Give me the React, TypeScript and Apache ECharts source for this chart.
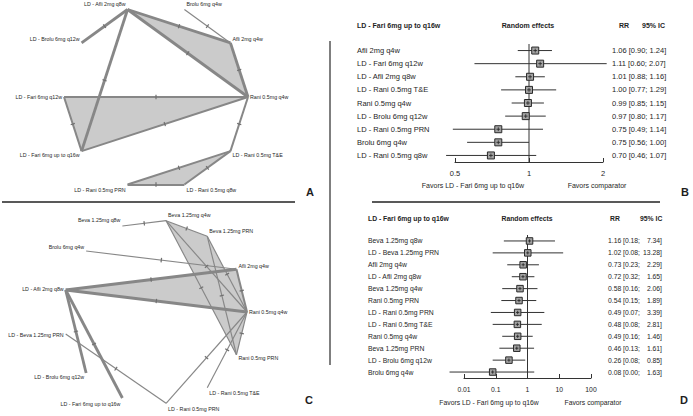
import React, { useEffect, useRef } from "react";
import * as echarts from "echarts";

const FONT = "'Liberation Sans', Arial, Helvetica, sans-serif";
const TXT = "#1e1e1e";
const EDGE = "#878787";
const FILL = "#cbcbcb";

// ---------- Network A (nodes in circular order, starting east, counter-clockwise)
const nodesA = [
  "Rani 0.5mg q4w",
  "Afli 2mg q4w",
  "Brolu 6mg q4w",
  "LD - Afli 2mg q8w",
  "LD - Brolu 6mg q12w",
  "LD - Fari 6mg q12w",
  "LD - Fari 6mg up to q16w",
  "LD - Rani 0.5mg PRN",
  "LD - Rani 0.5mg q8w",
  "LD - Rani 0.5mg T&E",
];
// [source, target, number of studies]
const edgesA: [string, string, number][] = [
  ["LD - Afli 2mg q8w", "LD - Brolu 6mg q12w", 3],
  ["LD - Afli 2mg q8w", "Afli 2mg q4w", 3],
  ["LD - Afli 2mg q8w", "Rani 0.5mg q4w", 3],
  ["LD - Afli 2mg q8w", "LD - Fari 6mg up to q16w", 3],
  ["Brolu 6mg q4w", "Afli 2mg q4w", 1],
  ["Afli 2mg q4w", "Rani 0.5mg q4w", 3],
  ["LD - Fari 6mg q12w", "Rani 0.5mg q4w", 2],
  ["LD - Fari 6mg q12w", "LD - Fari 6mg up to q16w", 2],
  ["LD - Fari 6mg up to q16w", "Rani 0.5mg q4w", 2],
  ["Rani 0.5mg q4w", "LD - Rani 0.5mg T&E", 2],
  ["LD - Rani 0.5mg T&E", "LD - Rani 0.5mg PRN", 2],
  ["LD - Rani 0.5mg T&E", "LD - Rani 0.5mg q8w", 2],
  ["LD - Rani 0.5mg PRN", "LD - Rani 0.5mg q8w", 2],
];
const loopsA: string[][] = [
  ["LD - Afli 2mg q8w", "Afli 2mg q4w", "Rani 0.5mg q4w"],
  ["LD - Fari 6mg q12w", "Rani 0.5mg q4w", "LD - Fari 6mg up to q16w"],
  ["LD - Rani 0.5mg T&E", "LD - Rani 0.5mg q8w", "LD - Rani 0.5mg PRN"],
];

// ---------- Network C
const nodesC = [
  "Rani 0.5mg q4w",
  "Afli 2mg q4w",
  "Beva 1.25mg PRN",
  "Beva 1.25mg q4w",
  "Beva 1.25mg q8w",
  "Brolu 6mg q4w",
  "LD - Afli 2mg q8w",
  "LD - Beva 1.25mg PRN",
  "LD - Brolu 6mg q12w",
  "LD - Fari 6mg up to q16w",
  "LD - Rani 0.5mg PRN",
  "LD - Rani 0.5mg T&E",
  "Rani 0.5mg PRN",
];
const edgesC: [string, string, number][] = [
  ["Beva 1.25mg q8w", "Beva 1.25mg q4w", 1],
  ["Beva 1.25mg q4w", "Beva 1.25mg PRN", 1],
  ["Beva 1.25mg q4w", "Rani 0.5mg q4w", 1],
  ["Beva 1.25mg q4w", "Rani 0.5mg PRN", 1],
  ["Beva 1.25mg PRN", "Rani 0.5mg q4w", 1],
  ["Beva 1.25mg PRN", "Rani 0.5mg PRN", 1],
  ["Brolu 6mg q4w", "Afli 2mg q4w", 1],
  ["LD - Afli 2mg q8w", "Afli 2mg q4w", 3],
  ["LD - Afli 2mg q8w", "Rani 0.5mg q4w", 3],
  ["Afli 2mg q4w", "Rani 0.5mg q4w", 2],
  ["Rani 0.5mg q4w", "Rani 0.5mg PRN", 1],
  ["LD - Afli 2mg q8w", "LD - Brolu 6mg q12w", 3],
  ["LD - Afli 2mg q8w", "LD - Fari 6mg up to q16w", 3],
  ["LD - Beva 1.25mg PRN", "LD - Rani 0.5mg PRN", 1],
  ["LD - Rani 0.5mg PRN", "Rani 0.5mg q4w", 1],
  ["LD - Rani 0.5mg T&E", "Rani 0.5mg q4w", 1],
];
const loopsC: string[][] = [
  ["Beva 1.25mg q4w", "Beva 1.25mg PRN", "Rani 0.5mg q4w", "Rani 0.5mg PRN"],
  ["LD - Afli 2mg q8w", "Afli 2mg q4w", "Rani 0.5mg q4w"],
];

// ---------- Forest B
const labelsB = [
  "Afli 2mg q4w",
  "LD - Fari 6mg q12w",
  "LD - Afli 2mg q8w",
  "LD - Rani 0.5mg T&E",
  "Rani 0.5mg q4w",
  "LD - Brolu 6mg q12w",
  "LD - Rani 0.5mg PRN",
  "Brolu 6mg q4w",
  "LD - Rani 0.5mg q8w",
];
const rrB = [1.06, 1.11, 1.01, 1.0, 0.99, 0.97, 0.75, 0.75, 0.7];
const loB = [0.9, 0.6, 0.88, 0.77, 0.85, 0.8, 0.49, 0.56, 0.46];
const hiB = [1.24, 2.07, 1.16, 1.29, 1.15, 1.17, 1.14, 1.0, 1.07];

// ---------- Forest D
const labelsD = [
  "Beva 1.25mg q8w",
  "LD - Beva 1.25mg PRN",
  "Afli 2mg q4w",
  "LD - Afli 2mg q8w",
  "Beva 1.25mg q4w",
  "Rani 0.5mg PRN",
  "LD - Rani 0.5mg PRN",
  "LD - Rani 0.5mg T&E",
  "Rani 0.5mg q4w",
  "Beva 1.25mg PRN",
  "LD - Brolu 6mg q12w",
  "Brolu 6mg q4w",
];
const rrD = [1.16, 1.02, 0.73, 0.72, 0.58, 0.54, 0.49, 0.48, 0.49, 0.46, 0.26, 0.08];
const loD = [0.18, 0.08, 0.23, 0.32, 0.16, 0.15, 0.07, 0.08, 0.16, 0.13, 0.08, 0.0035];
const hiD = [7.34, 13.28, 2.29, 1.65, 2.06, 1.89, 3.39, 2.81, 1.46, 1.61, 0.85, 1.63];

const refName = "LD - Fari 6mg up to q16w";
const favLeft = "Favors LD - Fari 6mg up to q16w";
const favRight = "Favors comparator";

const f2 = (v: number) => v.toFixed(2);
const widthOf = (k: number) => 0.3 + k * 0.85;

function circlePos(nodes: string[]) {
  const pos: Record<string, [number, number]> = {};
  nodes.forEach((n, i) => {
    const a = (i * 2 * Math.PI) / nodes.length;
    pos[n] = [Math.cos(a), Math.sin(a)];
  });
  return pos;
}

function networkSeries(
  idx: number,
  nodes: string[],
  edges: [string, string, number][],
  loops: string[][]
) {
  const pos = circlePos(nodes);
  const graph = {
    type: "graph",
    coordinateSystem: "cartesian2d",
    xAxisIndex: idx,
    yAxisIndex: idx,
    symbolSize: 0,
    silent: true,
    z: 3,
    emphasis: { disabled: true },
    data: nodes.map((n) => {
      const [c, s] = pos[n];
      return {
        name: n,
        value: pos[n],
        label: {
          show: true,
          position: c >= -0.05 ? "right" : "left",
          offset: [0, -6 * s],
          distance: 2,
          fontSize: 5.3,
          color: TXT,
          fontFamily: FONT,
        },
      };
    }),
    links: edges.map(([s, t, k]) => ({
      source: s,
      target: t,
      lineStyle: { width: widthOf(k) },
    })),
    lineStyle: { color: EDGE, opacity: 1, curveness: 0 },
  };
  const polys = {
    type: "custom",
    xAxisIndex: idx,
    yAxisIndex: idx,
    silent: true,
    z: 1,
    data: loops.map((_, i) => [0, 0, i]),
    encode: { x: 0, y: 1 },
    renderItem: (_p: any, api: any) => {
      const loop = loops[api.value(2) as number];
      return {
        type: "polygon",
        shape: { points: loop.map((n) => api.coord(pos[n])) },
        style: { fill: FILL, stroke: "none" },
      };
    },
  };
  const ticks = {
    type: "custom",
    xAxisIndex: idx,
    yAxisIndex: idx,
    silent: true,
    z: 4,
    data: edges.map((_, i) => [0, 0, i]),
    encode: { x: 0, y: 1 },
    renderItem: (_p: any, api: any) => {
      const [s, t] = edges[api.value(2) as number];
      const p = api.coord(pos[s]);
      const q = api.coord(pos[t]);
      const mx = (p[0] + q[0]) / 2;
      const my = (p[1] + q[1]) / 2;
      const dx = q[0] - p[0];
      const dy = q[1] - p[1];
      const L = Math.hypot(dx, dy) || 1;
      const nx = (-dy / L) * 2.2;
      const ny = (dx / L) * 2.2;
      return {
        type: "line",
        shape: { x1: mx - nx, y1: my - ny, x2: mx + nx, y2: my + ny },
        style: { stroke: "#707070", lineWidth: 1.2 },
      };
    },
  };
  return [polys, graph, ticks];
}

function forestSeries(
  xi: number,
  yi: number,
  rr: number[],
  lo: number[],
  hi: number[],
  sq: number
) {
  const main = {
    type: "custom",
    xAxisIndex: xi,
    yAxisIndex: yi,
    silent: true,
    z: 3,
    data: rr.map((v, i) => [v, i, lo[i], hi[i]]),
    encode: { x: 0, y: 1 },
    renderItem: (_p: any, api: any) => {
      const row = api.value(1);
      const c = api.coord([api.value(0), row]);
      const a = api.coord([api.value(2), row]);
      const b = api.coord([api.value(3), row]);
      const h = sq / 2;
      return {
        type: "group",
        children: [
          {
            type: "line",
            shape: { x1: a[0], y1: a[1], x2: b[0], y2: b[1] },
            style: { stroke: "#333", lineWidth: 1 },
          },
          {
            type: "rect",
            shape: { x: c[0] - h, y: c[1] - h, width: sq, height: sq },
            style: { fill: "#a3a3a3", stroke: "#2a2a2a", lineWidth: 1 },
          },
          {
            type: "line",
            shape: { x1: c[0] - h + 1.6, y1: c[1], x2: c[0] + h - 1.6, y2: c[1] },
            style: { stroke: "#222", lineWidth: 0.8 },
          },
          {
            type: "line",
            shape: { x1: c[0], y1: c[1] - h + 1.6, x2: c[0], y2: c[1] + h - 1.6 },
            style: { stroke: "#222", lineWidth: 0.8 },
          },
        ],
      };
    },
  };
  const ref = {
    type: "custom",
    xAxisIndex: xi,
    yAxisIndex: yi,
    silent: true,
    z: 2,
    data: [[1, 0]],
    encode: { x: 0, y: 1 },
    renderItem: (p: any, api: any) => {
      const x = api.coord([1, 0])[0];
      const cs = p.coordSys;
      return {
        type: "line",
        shape: { x1: x, y1: cs.y, x2: x, y2: cs.y + cs.height },
        style: { stroke: "#333", lineWidth: 1 },
      };
    },
  };
  return [ref, main];
}

const hiddenAxis = (gridIndex: number) => ({
  type: "value",
  gridIndex,
  min: -1,
  max: 1,
  show: false,
});

const logFmt = (v: number) => String(Number(v.toPrecision(4)));

function buildOption() {
  const text = (
    s: string,
    x: number,
    y: number,
    size: number,
    align = "left",
    bold = false
  ) => ({
    type: "text",
    x,
    y,
    silent: true,
    style: {
      text: s,
      fill: TXT,
      font: `${bold ? "bold " : ""}${size}px ${FONT}`,
      textAlign: align,
      textVerticalAlign: "middle",
    },
  });
  const line = (x1: number, y1: number, x2: number, y2: number, c: string, w: number) => ({
    type: "line",
    silent: true,
    shape: { x1, y1, x2, y2 },
    style: { stroke: c, lineWidth: w },
  });

  return {
    animation: false,
    backgroundColor: "#ffffff",
    textStyle: { fontFamily: FONT },
    grid: [
      { left: 64, top: 5, width: 184, height: 184 },
      { left: 63, top: 220, width: 184, height: 184 },
      { left: 455, top: 44, width: 148, height: 118 },
      { left: 464, top: 235, width: 127, height: 143 },
    ],
    xAxis: [
      hiddenAxis(0),
      hiddenAxis(1),
      {
        type: "log",
        logBase: 2,
        gridIndex: 2,
        min: 0.5,
        max: 2,
        axisLine: { show: true, lineStyle: { color: "#333", width: 1 } },
        axisTick: { show: true, inside: true, length: 4, lineStyle: { color: "#333" } },
        axisLabel: { fontSize: 7.5, color: TXT, margin: 7, formatter: logFmt, fontFamily: FONT },
        splitLine: { show: false },
      },
      {
        type: "log",
        logBase: 10,
        gridIndex: 3,
        min: 0.01,
        max: 100,
        axisLine: { show: true, lineStyle: { color: "#333", width: 1 } },
        axisTick: { show: true, inside: true, length: 4, lineStyle: { color: "#333" } },
        axisLabel: { fontSize: 6.8, color: TXT, margin: 8, formatter: logFmt, fontFamily: FONT },
        splitLine: { show: false },
      },
    ],
    yAxis: [
      hiddenAxis(0),
      hiddenAxis(1),
      {
        type: "category",
        gridIndex: 2,
        inverse: true,
        data: labelsB,
        axisLine: { show: false },
        axisTick: { show: false },
        axisLabel: { align: "left", margin: 98, fontSize: 7.5, color: TXT, fontFamily: FONT },
      },
      {
        type: "category",
        gridIndex: 2,
        position: "right",
        inverse: true,
        data: rrB.map((v, i) => `${f2(v)} [${f2(loB[i])}; ${f2(hiB[i])}]`),
        axisLine: { show: false },
        axisTick: { show: false },
        axisLabel: { align: "left", margin: 9, fontSize: 7.5, color: TXT, fontFamily: FONT },
      },
      {
        type: "category",
        gridIndex: 3,
        inverse: true,
        data: labelsD,
        axisLine: { show: false },
        axisTick: { show: false },
        axisLabel: { align: "left", margin: 96, fontSize: 6.8, color: TXT, fontFamily: FONT },
      },
      {
        type: "category",
        gridIndex: 3,
        position: "right",
        inverse: true,
        data: rrD.map((v, i) => `{rr|${f2(v)}}{lo|[${f2(loD[i])};}{hi|${f2(hiD[i])}]}`),
        axisLine: { show: false },
        axisTick: { show: false },
        axisLabel: {
          align: "left",
          margin: 17,
          fontSize: 6.8,
          color: TXT,
          fontFamily: FONT,
          rich: {
            rr: { width: 15, fontSize: 6.8, color: TXT, fontFamily: FONT },
            lo: { width: 20, fontSize: 6.8, color: TXT, fontFamily: FONT },
            hi: { width: 19, align: "right", fontSize: 6.8, color: TXT, fontFamily: FONT },
          },
        },
      },
    ],
    series: [
      ...networkSeries(0, nodesA, edgesA, loopsA),
      ...networkSeries(1, nodesC, edgesC, loopsC),
      ...forestSeries(2, 2, rrB, loB, hiB, 7),
      ...forestSeries(3, 4, rrD, loD, hiD, 6.5),
    ],
    graphic: [
      line(2, 202, 295, 202, "#222", 1.5),
      line(372, 202, 660, 202, "#222", 1.5),
      line(330, 41, 330, 365, "#555", 1.5),
      text("A", 310, 192, 11, "center", true),
      text("B", 685, 192, 11, "center", true),
      text("C", 309, 400, 11, "center", true),
      text("D", 684, 400, 11, "center", true),
      // B header / footer
      text(refName, 357, 25, 7, "left", true),
      text("Random effects", 528, 25, 7, "center", true),
      text("RR", 619, 25, 7, "left", true),
      text("95% IC", 642, 25, 7, "left", true),
      text(favLeft, 473, 185, 7, "center"),
      text(favRight, 597, 185, 7, "center"),
      // D header / footer
      text(refName, 368, 218, 6.8, "left", true),
      text("Random effects", 527, 218, 6.8, "center", true),
      text("RR", 610, 218, 6.8, "left", true),
      text("95% IC", 640, 218, 6.8, "left", true),
      text(favLeft, 489, 402, 6.8, "center"),
      text(favRight, 593, 402, 6.8, "center"),
    ],
  };
}

export default function App() {
  const ref = useRef<HTMLDivElement>(null);
  useEffect(() => {
    if (!ref.current) return;
    const chart = echarts.init(ref.current, undefined, { renderer: "svg" });
    chart.setOption(buildOption() as any);
    return () => chart.dispose();
  }, []);
  return (
    <div
      ref={ref}
      style={{ position: "fixed", left: 0, top: 0, width: 693, height: 416, background: "#fff" }}
    />
  );
}
